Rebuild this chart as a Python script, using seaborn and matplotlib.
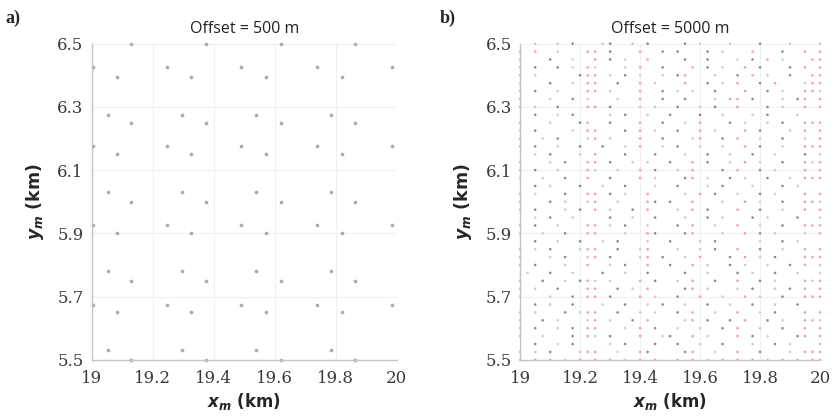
import numpy as np
import pandas as pd
import matplotlib
matplotlib.use("Agg")
import matplotlib.pyplot as plt
import seaborn as sns

# ---------------- data ----------------
titles = ["Offset = 500 m", "Offset = 5000 m"]
panel_tags = ["a)", "b)"]
x_ticks = [19, 19.2, 19.4, 19.6, 19.8, 20]
x_tick_labels = ["19", "19.2", "19.4", "19.6", "19.8", "20"]
y_ticks = [5.5, 5.7, 5.9, 6.1, 6.3, 6.5]
y_tick_labels = ["5.5", "5.7", "5.9", "6.1", "6.3", "6.5"]

# panel a: four interleaved lattices of midpoints (km)
setA_x = [19.004, 19.245, 19.49, 19.74, 19.985]
setA_y = [6.425, 6.175, 5.925, 5.675]
setB_x = [19.081, 19.325, 19.57, 19.82]
setB_y = [6.395, 6.15, 5.90, 5.65]
setC_x = [19.053, 19.295, 19.54, 19.785]
setC_y = [6.275, 6.03, 5.78, 5.53]
setD_x = [19.13, 19.375, 19.62, 19.865]
setD_y = [6.5, 6.25, 6.0, 5.75, 5.5]

# panel b: midpoint occupancy (top row = 6.5 km)
# r = red point, k = dark grey point, g = light grey point, . = empty
grid_x = [round(19 + 0.025 * i, 3) for i in range(41)]
grid_y = [round(6.5 - 0.025 * j, 3) for j in range(41)]
rows_b = [
    "..g..g.k.. .gk..g.k.. ..k.g...g. ..k...g... g",
    "r.r..g...r r.k...r..k .k...k.g.. .r...k..r. r",
    "r...k..g.. r.k.g..r.. ..k..k...g .k.r.g...r r",
    "r.k..k.g.r g...g.r..k ...r.k.g.. r.k...k.r. r",
    "r.g.....kr r.g.k.g..g .kr...g..k .r.g..k..r r",
    "g...k..g.r r..k..r.g. ..r..k.g.r ..k.r...gr r",
    "r.k..g...r r.g...r..k .g.g..k... r..k.g..rr g",
    "r...g..k.g ...g..r..k ..k...g.rr .k...g.kr. r",
    "r.g..k...r r.k...g.g. .k..g.k..r ...k.g..r. r",
    "..k..g.k.. ..g.k..g.. k...k..g.. .g.k...g.. .",
    "r...g...kr ..k...r..k ..g.r...k. g..g.k..rr r",
    "g.k....g.r r...k.r.g. .k..r.g... r.k...g.r. r",
    "r..g.k...g r.g...r..k ...gr..k.r ..g..k..g. r",
    "r.k..g..k. .k..g.r..g .k..g..g.. r.k..g..rr r",
    "..g.k...g. r...k...k. ..g..k..g. .k..g...k. g",
    "r...g.k..r r.k..g.g.. k..r.k..g. r.g..k..rg r",
    "r.k..g...r g..g..r.k. .g.r...k.r ..k.g...r. r",
    "g..g..k..r ..k...r.g. ..kr.g..k. g..k..g.rr r",
    "..k.g...k. .g..k...g. .k...g.k.. .g...k.g.. .",
    "r.g...k..r r.k.g..r.. ..g.r.k..g ..k.g...r. r",
    "r...k.g..g r..g...rk. k..r...g.. r.g..k..rr g",
    "r.k...g.k. r.g..k.r.. .g.r.k...r ..k..g..r. r",
    "..g.k..g.. ..k..g..k. ..g..k.g.. .k.g...k.. g",
    "r.k..g...r r.g.k..g.. .k.r..g..r ..g..k..rr r",
    "g..g..k..r r...g..rk. ..kr...g.. r.k.g...g. r",
    "..k..g..k. .g.k...g.. k...g.k... ..g..k.g.. .",
    "r.g.k...gr r..k..gr.. .g..g.k..r ..k..g..r. r",
    "r...g.k..g r.k...gr.k ..g.r...k. r.g.k...rr r",
    "r.k...g..r ..g.k..r.. k..r.g..k. g..g..k.r. g",
    ".g..k..g.. .k..g..k.. ..k..g...k .g..k..g.. g",
    "r..k..g.kr g.g...r.k. .g.r..k..r ..k.g...rg r",
    "r.g..k...r r..k.g.r.. ..kr.g...g .k..g.k.r. r",
    "g...g..k.r r.k...r.g. .k..r..g.. r.g..k..rr r",
    "..k.g..k.. .g..k..g.k ..g..k..g. .k..g..k.. .",
    "r.g...k.gr r..k..g.g. .k.r..g..r ..g.k...r. r",
    "r..k.g...g r.g..k.r.. ..gr.k..k. r..k.g..rr g",
    "r.k..g.k.r r...g.r.k. .g..g..k.r ..g..k..r. r",
    "r..g...k.r g.k...r..g k..r.g...r .k.g...kr. r",
    "..k..g.k.. ..g.k...k. .k..g..k.. .g..k.g... g",
    "r.g.k...gr r..g..rk.. ..kr..g..r ..k...g.rr r",
    "r.r.r.g.r. r.r.g.r.r. .r.r.g.r.r .r.g.r.r.r r",
]

# ---------------- build tables ----------------
recs_a = []
for xs, ys in [(setA_x, setA_y), (setB_x, setB_y), (setC_x, setC_y), (setD_x, setD_y)]:
    for yv in ys:
        for xv in xs:
            recs_a.append((xv, yv))
df_a = pd.DataFrame(recs_a, columns=["x", "y"])

recs_b = []
for j, row in enumerate(rows_b):
    cells = row.replace(" ", "")
    for i, ch in enumerate(cells[:41]):
        if ch in "rkg":
            recs_b.append((grid_x[i], grid_y[j], ch))
df_b = pd.DataFrame(recs_b, columns=["x", "y", "kind"])

# ---------------- style ----------------
sns.set_theme(style="white")
plt.rcParams["mathtext.fontset"] = "custom"
plt.rcParams["mathtext.it"] = "DejaVu Sans:bold:italic"
plt.rcParams["mathtext.rm"] = "DejaVu Sans:bold"
plt.rcParams["mathtext.bf"] = "DejaVu Sans:bold"

fig = plt.figure(figsize=(8.35, 4.16), dpi=100)
ax_a = fig.add_axes([0.110, 0.135, 0.365, 0.760])
ax_b = fig.add_axes([0.623, 0.135, 0.359, 0.760])

sns.scatterplot(data=df_a, x="x", y="y", ax=ax_a, color="#ababab",
                s=7, marker="o", linewidth=0, legend=False, clip_on=False)

palette = {"r": "#f0a0a0", "k": "#8a8a8a", "g": "#cdcdcd"}
sns.scatterplot(data=df_b, x="x", y="y", hue="kind", palette=palette, ax=ax_b,
                s=3.5, marker="o", linewidth=0, legend=False, clip_on=False)

for ax, title, tag in zip([ax_a, ax_b], titles, panel_tags):
    ax.set_xlim(19, 20)
    ax.set_ylim(5.5, 6.5)
    ax.set_xticks(x_ticks)
    ax.set_xticklabels(x_tick_labels, family="DejaVu Serif", fontsize=12,
                       color="#3a3a3a")
    ax.set_yticks(y_ticks)
    ax.set_yticklabels(y_tick_labels, family="DejaVu Serif", fontsize=12,
                       color="#3a3a3a")
    ax.tick_params(axis="x", length=0, pad=7)
    ax.tick_params(axis="y", length=0, pad=6)
    ax.grid(True, color="#f0f0f0", linewidth=0.8)
    ax.set_axisbelow(True)
    for side in ["top", "right"]:
        ax.spines[side].set_visible(False)
    for side in ["left", "bottom"]:
        ax.spines[side].set_color("#c4c4c4")
        ax.spines[side].set_linewidth(1.0)
    ax.set_title(title, fontsize=11.5, family="Open Sans", pad=8, color="#222222")
    ax.set_xlabel(r"$x_m$ (km)", fontsize=12, fontweight="bold", labelpad=3)
    ax.set_ylabel(r"$y_m$ (km)", fontsize=12.5, fontweight="bold", labelpad=8)

fig.text(0.006, 0.945, panel_tags[0], family="Liberation Serif", fontsize=13,
         fontweight="bold")
fig.text(0.527, 0.945, panel_tags[1], family="Liberation Serif", fontsize=13,
         fontweight="bold")

fig.savefig("out.png", dpi=100)
